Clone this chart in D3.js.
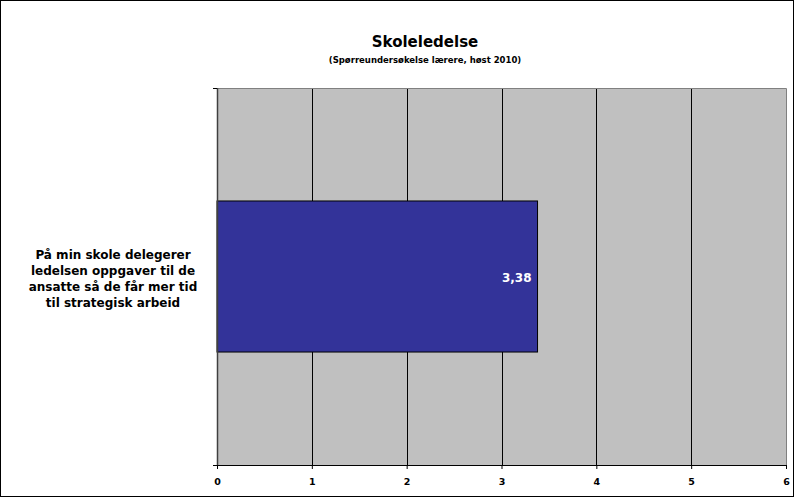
<!DOCTYPE html>
<html>
<head>
<meta charset="utf-8">
<script src="https://cdn.jsdelivr.net/npm/d3@7"></script>
<style>
  html, body { margin: 0; padding: 0; background: #fff; }
  svg { display: block; }
  text { font-family: "DejaVu Sans", Verdana, sans-serif; font-weight: bold; fill: #000; }
</style>
</head>
<body>
<svg id="chart" width="794" height="497"></svg>
<script>
// Survey item and its mean score
const categories = ["På min skole delegerer ledelsen oppgaver til de ansatte så de får mer tid til strategisk arbeid"];
const categoryLines = [["På min skole delegerer", "ledelsen oppgaver til de", "ansatte så de får mer tid", "til strategisk arbeid"]];
const values = [3.38];
const xTicks = [0, 1, 2, 3, 4, 5, 6];
const title = "Skoleledelse";
const subtitle = "(Spørreundersøkelse lærere, høst 2010)";

const W = 794, H = 497;
const margin = { left: 217, right: 8, top: 88, bottom: 32 };
const plotW = W - margin.left - margin.right;
const plotH = H - margin.top - margin.bottom;

const svg = d3.select("#chart");

// outer frame
svg.append("rect")
  .attr("x", 0.5).attr("y", 0.5)
  .attr("width", W - 1).attr("height", H - 1)
  .attr("fill", "#fff").attr("stroke", "#000").attr("stroke-width", 1);

svg.append("text")
  .attr("x", 425).attr("y", 47)
  .attr("text-anchor", "middle")
  .style("font-size", "15px")
  .text(title);

svg.append("text")
  .attr("x", 425).attr("y", 63)
  .attr("text-anchor", "middle")
  .style("font-size", "8.5px")
  .text(subtitle);

const x = d3.scaleLinear().domain([0, 6]).range([0, plotW]);
const y = d3.scaleBand().domain(categories).range([0, plotH]).paddingInner(0).paddingOuter(0.748);

const g = svg.append("g").attr("transform", `translate(${margin.left},${margin.top})`);

// plot background
g.append("rect")
  .attr("width", plotW).attr("height", plotH)
  .attr("fill", "#c0c0c0");

// vertical gridlines
g.selectAll("line.grid")
  .data(xTicks.slice(1, -1))
  .join("line")
  .attr("class", "grid")
  .attr("x1", d => Math.round(x(d)) + 0.5).attr("x2", d => Math.round(x(d)) + 0.5)
  .attr("y1", 0).attr("y2", plotH)
  .attr("stroke", "#000").attr("stroke-width", 1);

// plot border (top and right)
g.append("path")
  .attr("d", `M0,0.5H${plotW + 0.5}V${plotH}`)
  .attr("fill", "none").attr("stroke", "#808080").attr("stroke-width", 1);

// bars
g.selectAll("rect.bar")
  .data(values)
  .join("rect")
  .attr("class", "bar")
  .attr("x", 0)
  .attr("y", (d, i) => y(categories[i]))
  .attr("width", d => x(d))
  .attr("height", y.bandwidth())
  .attr("fill", "#333399")
  .attr("stroke", "#000").attr("stroke-width", 1);

// value labels
g.selectAll("text.val")
  .data(values)
  .join("text")
  .attr("class", "val")
  .attr("x", d => x(d) - 6)
  .attr("y", (d, i) => y(categories[i]) + y.bandwidth() / 2 + 5.5)
  .attr("text-anchor", "end")
  .style("font-size", "12px")
  .style("fill", "#fff")
  .text(d => d.toFixed(2).replace(".", ","));

// x axis
const xAxis = g.append("g")
  .attr("transform", `translate(0,${plotH})`)
  .call(d3.axisBottom(x).tickValues(xTicks).tickSize(4).tickFormat(d => d));
xAxis.select(".domain").attr("stroke", "#000").attr("d", `M-4,0.5H${plotW + 0.5}`);
xAxis.selectAll(".tick line").attr("stroke", "#000");
xAxis.selectAll(".tick text")
  .attr("dy", "12.5px")
  .style("font-size", "9.5px")
  .style("font-family", "'DejaVu Sans', Verdana, sans-serif")
  .style("font-weight", "bold");

// y axis: ticks on category boundaries
const yAxisG = g.append("g");
yAxisG.append("line")
  .attr("x1", 0.5).attr("x2", 0.5).attr("y1", 0).attr("y2", plotH)
  .attr("stroke", "#404040").attr("stroke-width", 1.5);
yAxisG.selectAll("line.yt")
  .data([0, plotH])
  .join("line")
  .attr("class", "yt")
  .attr("x1", -4).attr("x2", 0)
  .attr("y1", d => d + 0.5).attr("y2", d => d + 0.5)
  .attr("stroke", "#000");

// category labels
categoryLines.forEach((lines, i) => {
  const cy = margin.top + y(categories[i]) + y.bandwidth() / 2;
  const lh = 16;
  const t = svg.append("text")
    .attr("text-anchor", "middle")
    .style("font-size", "12px");
  lines.forEach((ln, j) => {
    t.append("tspan")
      .attr("x", 113)
      .attr("y", cy + (j - (lines.length - 1) / 2) * lh + 6.5)
      .text(ln);
  });
});
</script>
</body>
</html>
